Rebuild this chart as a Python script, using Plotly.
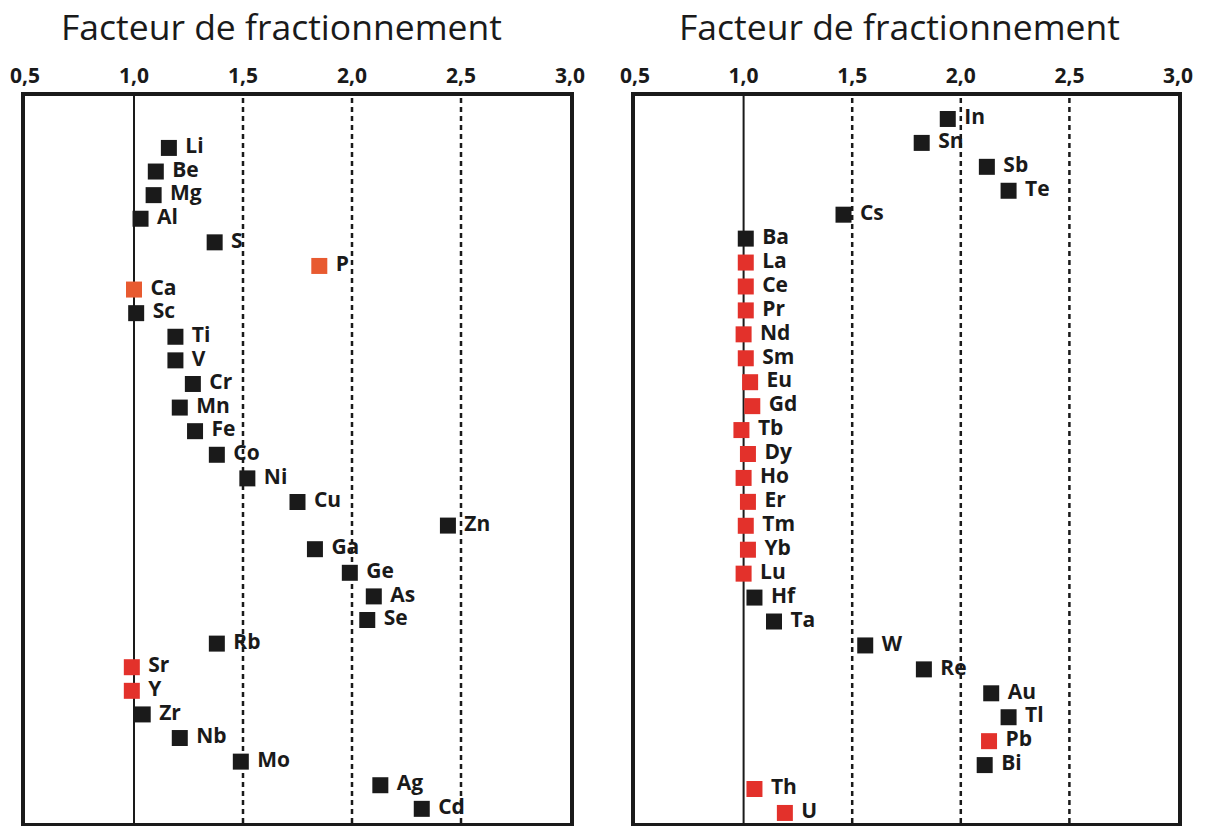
import plotly.graph_objects as go

# ---------------- data ----------------
left_elements = ["Li", "Be", "Mg", "Al", "S", "P", "Ca", "Sc", "Ti", "V", "Cr", "Mn", "Fe", "Co",
                 "Ni", "Cu", "Zn", "Ga", "Ge", "As", "Se", "Rb", "Sr", "Y", "Zr", "Nb", "Mo", "Ag", "Cd"]
left_values = [1.16, 1.10, 1.09, 1.03, 1.37, 1.85, 1.00, 1.01, 1.19, 1.19, 1.27, 1.21, 1.28, 1.38,
               1.52, 1.75, 2.44, 1.83, 1.99, 2.10, 2.07, 1.38, 0.99, 0.99, 1.04, 1.21, 1.49, 2.13, 2.32]
left_groups = ["k", "k", "k", "k", "k", "o", "o", "k", "k", "k", "k", "k", "k", "k",
               "k", "k", "k", "k", "k", "k", "k", "k", "r", "r", "k", "k", "k", "k", "k"]

right_elements = ["In", "Sn", "Sb", "Te", "Cs", "Ba", "La", "Ce", "Pr", "Nd", "Sm", "Eu", "Gd", "Tb", "Dy",
                  "Ho", "Er", "Tm", "Yb", "Lu", "Hf", "Ta", "W", "Re", "Au", "Tl", "Pb", "Bi", "Th", "U"]
right_values = [1.94, 1.82, 2.12, 2.22, 1.46, 1.01, 1.01, 1.01, 1.01, 1.00, 1.01, 1.03, 1.04, 0.99, 1.02,
                1.00, 1.02, 1.01, 1.02, 1.00, 1.05, 1.14, 1.56, 1.83, 2.14, 2.22, 2.13, 2.11, 1.05, 1.19]
right_groups = ["k", "k", "k", "k", "k", "k", "r", "r", "r", "r", "r", "r", "r", "r", "r",
                "r", "r", "r", "r", "r", "k", "k", "k", "k", "k", "k", "r", "k", "r", "r"]

x_ticks = [0.5, 1.0, 1.5, 2.0, 2.5, 3.0]
solid_ref = [1.0]
dashed_refs = [1.5, 2.0, 2.5]
panel_title = "Facteur de fractionnement"

# ---------------- style ----------------
COLORS = {"k": "#1a1a1a", "o": "#e85a30", "r": "#e3312b"}
# the page body adds an 8px margin, so the figure is sized to fill the rest of the window
W, H = 1206, 818

fig = go.Figure()

panels = [
    (left_elements, left_values, left_groups, "x", "y"),
    (right_elements, right_values, right_groups, "x2", "y2"),
]
for els, vals, grps, xa, ya in panels:
    fig.add_trace(go.Scatter(
        x=vals, y=els, mode="markers+text", xaxis=xa, yaxis=ya,
        text=[" " + e for e in els], textposition="middle right",
        textfont=dict(family="Open Sans", size=21, color="#1a1a1a", weight="bold"),
        marker=dict(symbol="square", size=16, color=[COLORS[g] for g in grps],
                    line=dict(width=0)),
        cliponaxis=False, showlegend=False, hoverinfo="x+y",
    ))

# reference lines
for xr, yr in [("x", "y"), ("x2", "y2")]:
    yd = "y domain" if yr == "y" else "y2 domain"
    for v in solid_ref:
        fig.add_shape(type="line", xref=xr, yref=yd, x0=v, x1=v, y0=0, y1=1,
                      line=dict(color="#1a1a1a", width=2), layer="below")
    for v in dashed_refs:
        fig.add_shape(type="line", xref=xr, yref=yd, x0=v, x1=v, y0=0, y1=1,
                      line=dict(color="#1a1a1a", width=2.5, dash="5px,4px"), layer="below")

axis_common = dict(
    range=[0.5, 3.0], tickvals=x_ticks, tickformat=".1f", side="top",
    showgrid=False, zeroline=False, ticks="", showline=True, mirror=True,
    linecolor="#1a1a1a", linewidth=4, automargin=False,
    tickfont=dict(family="Open Sans", size=21, color="#1a1a1a", weight="bold"),
    ticklabelstandoff=1,
)
yaxis_common = dict(
    showgrid=False, zeroline=False, showticklabels=False, ticks="",
    showline=True, mirror=True, linecolor="#1a1a1a", linewidth=4,
    type="category", automargin=False,
)

title_font = dict(family="Open Sans", size=35.5, color="#1a1a1a")

fig.update_layout(
    width=W, height=H,
    margin=dict(l=0, r=0, t=88, b=3, autoexpand=False),
    paper_bgcolor="white", plot_bgcolor="white",
    separators=", ",
    xaxis=dict(domain=[17 / W, 562 / W], anchor="y", **axis_common),
    xaxis2=dict(domain=[627 / W, 1170 / W], anchor="y2", **axis_common),
    yaxis=dict(anchor="x", range=[28.6, -2.2], **yaxis_common),
    yaxis2=dict(anchor="x2", range=[29.42, -0.96], **yaxis_common),
    annotations=[
        dict(text=panel_title, xref="x domain", yref="paper", x=0.5, y=1, yshift=70, xshift=-16,
             xanchor="center", yanchor="middle", showarrow=False, font=title_font),
        dict(text=panel_title, xref="x2 domain", yref="paper", x=0.5, y=1, yshift=70, xshift=-7,
             xanchor="center", yanchor="middle", showarrow=False, font=title_font),
    ],
)

fig.write_html("out.html")
